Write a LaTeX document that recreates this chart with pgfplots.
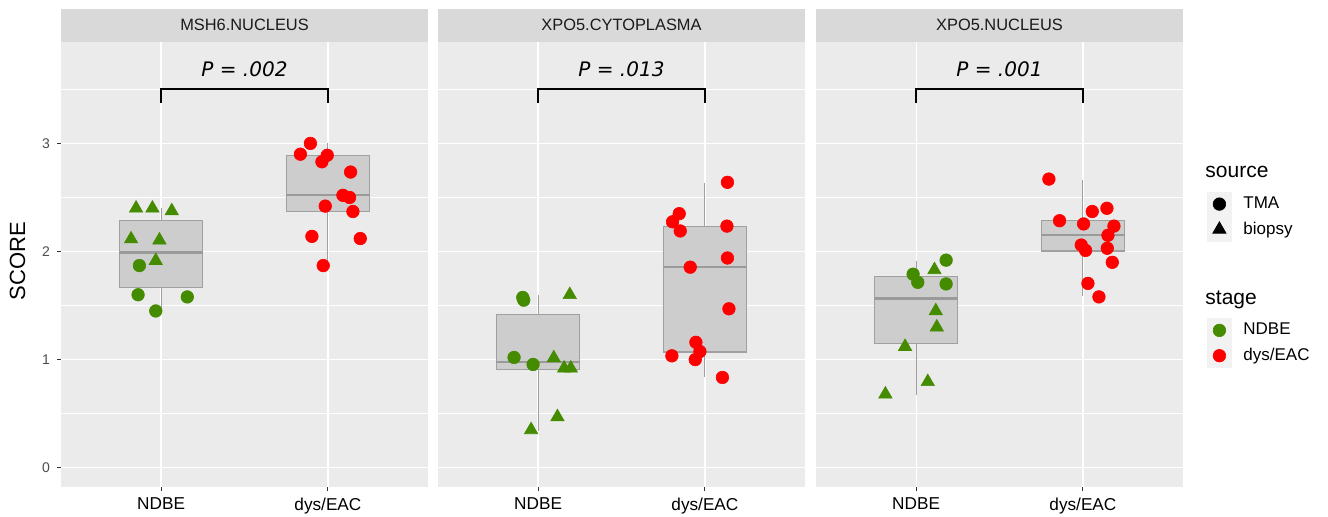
\documentclass[border=0pt]{standalone}
\usepackage{pgfplots}
\pgfplotsset{compat=1.18}
\usepgfplotslibrary{statistics}
\usepackage{fontspec}
\setmainfont{Liberation Sans}
\newfontfamily\dejavu{DejaVu Sans}
\definecolor{panelbg}{HTML}{EBEBEB}
\definecolor{stripbg}{HTML}{D9D9D9}
\definecolor{keybg}{HTML}{F2F2F2}
\definecolor{boxfill}{HTML}{CDCDCD}
\definecolor{boxline}{HTML}{A0A0A0}
\definecolor{medline}{HTML}{9A9A9A}
\definecolor{gGreen}{HTML}{458B00}
\definecolor{gRed}{HTML}{FF0000}
\definecolor{tickgrey}{HTML}{333333}
\definecolor{labgrey}{HTML}{4D4D4D}
\definecolor{striptext}{HTML}{1A1A1A}

\pgfplotsset{
  facet/.style={
    scale only axis, width=183.5pt, height=222.5pt,
    xmin=0.4, xmax=2.6, ymin=-0.1785, ymax=3.938,
    axis background/.style={fill=panelbg},
    axis line style={draw=none},
    xtick={1,2}, xticklabels={NDBE, dys/EAC},
    ytick={0,1,2,3}, minor ytick={0.5,1.5,2.5,3.5},
    grid=both,
    major grid style={white, line width=0.6pt},
    minor grid style={white, line width=0.3pt},
    tick align=outside, xtick pos=bottom, ytick pos=left,
    major tick length=2pt, minor tick length=0pt,
    tick style={tickgrey, line width=0.55pt},
    xticklabel style={font=\fontsize{8.6}{10}\selectfont, text=black},
    yticklabel style={font=\fontsize{7}{8}\selectfont, text=labgrey},
    /pgf/number format/assume math mode=true,
    title style={at={(0.5,1)}, anchor=south, yshift=-6pt, fill=stripbg, minimum width=183.5pt,
      minimum height=16.5pt, inner sep=0pt, font=\fontsize{8.2}{10}\selectfont, text=striptext},
    boxplot/draw direction=y,
    boxplot/whisker extend=0,
    boxplot/every box/.style={draw=boxline, fill=boxfill, line width=0.55pt},
    boxplot/every whisker/.style={draw=boxline, line width=0.55pt},
    boxplot/every median/.style={draw=medline, line width=1.1pt},
    legend image code/.code={\fill[keybg] (-6pt,-6pt) rectangle (6pt,6pt);
      \draw[#1] plot coordinates {(0pt,0pt)};},
  },
  bx/.style={forget plot, boxplot prepared={#1}, boxplot/draw direction=y, boxplot/box extend=0.5},
  tma/.style={forget plot, only marks, color=#1, mark=*, mark size=3.15pt, mark options={draw=#1, fill=#1, line width=0.3pt}},
  bio/.style={forget plot, only marks, color=#1, mark=triangle*, mark size=3.85pt, mark options={draw=#1, fill=#1, line width=0.3pt}},
}
\newcommand{\bracket}[1]{%
  \draw[black, line width=0.9pt] (axis cs:1,3.376) -- (axis cs:1,3.50) -- (axis cs:2,3.50) -- (axis cs:2,3.376);
  \node[font=\dejavu\itshape\fontsize{10}{12}\selectfont] at (axis cs:1.5,3.685) {#1};}

\begin{document}
\begin{tikzpicture}
\useasboundingbox (0,0) rectangle (664pt,258pt);

% Panel 1
\begin{axis}[facet, at={(30.5pt,14.5pt)}, anchor=south west, title={MSH6.NUCLEUS},
  ylabel={SCORE}, ylabel style={font=\fontsize{11}{13}\selectfont, at={(axis description cs:-0.1185,0.508)}, anchor=center}]
\addplot[bx={lower whisker=1.45, lower quartile=1.665, median=1.99, upper quartile=2.29, upper whisker=2.40, draw position=1}] coordinates {};
\addplot[bx={lower whisker=1.87, lower quartile=2.37, median=2.52, upper quartile=2.885, upper whisker=3.00, draw position=2}] coordinates {};
\addplot[bio=gGreen] coordinates {(0.850,2.40) (0.948,2.40) (1.064,2.375) (0.820,2.115) (0.990,2.105) (0.968,1.915)};
\addplot[tma=gGreen] coordinates {(0.870,1.87) (0.862,1.60) (1.157,1.58) (0.968,1.45)};
\addplot[tma=gRed] coordinates {(1.895,3.00) (1.835,2.90) (1.996,2.89) (1.964,2.83) (2.136,2.735) (2.090,2.52) (2.130,2.50) (1.984,2.42) (2.150,2.37) (1.904,2.14) (2.194,2.12) (1.972,1.87)};
\bracket{P = .002}
\end{axis}

% Panel 2
\begin{axis}[facet, at={(219pt,14.5pt)}, anchor=south west, title={XPO5.CYTOPLASMA},
  yticklabels={}, ytick style={draw=none},
  legend style={at={(axis description cs:2.0954,0.3798)}, anchor=north west, draw=none, fill=none,
    inner sep=0pt, outer sep=0pt, row sep=0.25pt, font=\fontsize{8.5}{10}\selectfont,
    nodes={inner sep=0pt}, /tikz/every odd column/.append style={column sep=5.8pt}},
  legend cell align=left]
\addplot[bx={lower whisker=0.34, lower quartile=0.905, median=0.98, upper quartile=1.42, upper whisker=1.60, draw position=1}] coordinates {};
\addplot[bx={lower whisker=0.84, lower quartile=1.07, median=1.855, upper quartile=2.235, upper whisker=2.635, draw position=2}] coordinates {};
\addplot[tma=gGreen] coordinates {(0.908,1.575) (0.914,1.55) (0.856,1.02) (0.970,0.955)};
\addplot[bio=gGreen] coordinates {(1.190,1.60) (1.094,1.015) (1.156,0.92) (1.196,0.92) (1.116,0.47) (0.958,0.35)};
\addplot[tma=gRed] coordinates {(2.135,2.64) (1.846,2.35) (1.806,2.275) (1.852,2.19) (2.132,2.235) (2.135,1.94) (1.912,1.855) (2.144,1.47) (1.946,1.16) (1.970,1.075) (1.802,1.035) (1.942,1.00) (2.105,0.835)};
\bracket{P = .013}
\addlegendimage{only marks, color=gGreen, mark=*, mark size=3.15pt, mark options={draw=gGreen, fill=gGreen, line width=0.3pt}}
\addlegendentry{NDBE}
\addlegendimage{only marks, color=gRed, mark=*, mark size=3.15pt, mark options={draw=gRed, fill=gRed, line width=0.3pt}}
\addlegendentry{dys/EAC}
\end{axis}

% Panel 3
\begin{axis}[facet, at={(408pt,14.5pt)}, anchor=south west, title={XPO5.NUCLEUS},
  yticklabels={}, ytick style={draw=none},
  legend style={at={(axis description cs:1.0654,0.6636)}, anchor=north west, draw=none, fill=none,
    inner sep=0pt, outer sep=0pt, row sep=0.25pt, font=\fontsize{8.5}{10}\selectfont,
    nodes={inner sep=0pt}, /tikz/every odd column/.append style={column sep=5.8pt}},
  legend cell align=left]
\addplot[bx={lower whisker=0.67, lower quartile=1.15, median=1.565, upper quartile=1.77, upper whisker=1.915, draw position=1}] coordinates {};
\addplot[bx={lower whisker=1.59, lower quartile=2.005, median=2.15, upper quartile=2.29, upper whisker=2.66, draw position=2}] coordinates {};
\addplot[tma=gGreen] coordinates {(1.180,1.92) (0.982,1.79) (1.010,1.715) (1.180,1.70)};
\addplot[bio=gGreen] coordinates {(1.110,1.83) (1.118,1.45) (1.124,1.30) (0.934,1.12) (1.070,0.795) (0.816,0.68)};
\addplot[tma=gRed] coordinates {(1.796,2.67) (2.144,2.40) (2.056,2.37) (1.860,2.285) (2.004,2.255) (2.186,2.235) (2.150,2.15) (1.990,2.06) (2.016,2.01) (2.146,2.03) (2.176,1.90) (2.030,1.705) (2.096,1.58)};
\bracket{P = .001}
\addlegendimage{only marks, color=black, mark=*, mark size=3.15pt, mark options={draw=black, fill=black, line width=0.3pt}}
\addlegendentry{TMA}
\addlegendimage{only marks, color=black, mark=triangle*, mark size=3.85pt, mark options={draw=black, fill=black, line width=0.3pt}}
\addlegendentry{biopsy}
\end{axis}

\node[anchor=base west, font=\fontsize{10.5}{12}\selectfont, inner sep=0pt] at (602.5pt,169.4pt) {source};
\node[anchor=base west, font=\fontsize{10.5}{12}\selectfont, inner sep=0pt] at (602.5pt,106pt) {stage};
\end{tikzpicture}
\end{document}
